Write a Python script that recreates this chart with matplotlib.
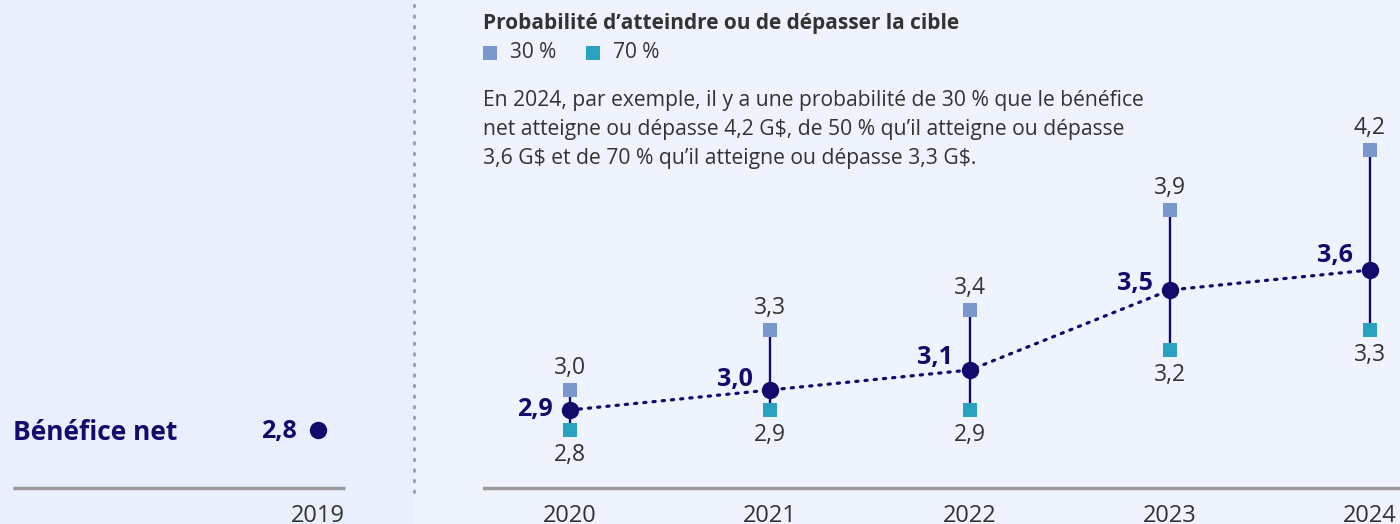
import numpy as np
import matplotlib.pyplot as plt
from matplotlib.patches import Rectangle

plt.rcParams['font.family'] = ['Open Sans', 'DejaVu Sans']

# --- data ---
years = [2020, 2021, 2022, 2023, 2024]
median = [2.9, 3.0, 3.1, 3.5, 3.6]
p30 = [3.0, 3.3, 3.4, 3.9, 4.2]
p70 = [2.8, 2.9, 2.9, 3.2, 3.3]
year_hist = 2019
value_hist = 2.8

NAVY = '#130b6b'
C30 = '#7a97cf'
C70 = '#2aa2bf'
GREY_TXT = '#333333'
AXIS = '#9a9a9a'

def fmt(v):
    return f'{v:.1f}'.replace('.', ',')

W, H = 1400, 524
fig = plt.figure(figsize=(W / 100, H / 100), dpi=100)
fig.patch.set_facecolor('#eff3fe')
fig.patches.append(Rectangle((0, 0), 414 / W, 1, transform=fig.transFigure,
                             facecolor='#e9effd', edgecolor='none', zorder=-5))

# y scale: 200 px per unit, 2.9 at y=410 px from top
ylo = 2.9 + (410 - H) / 200
yhi = 2.9 + 410 / 200
base = 2.9 - (488 - 410) / 200
ytick = 2.9 - (516 - 410) / 200

# --- left panel (2019) ---
axl = fig.add_axes([0, 0, 414 / W, 1])
axl.patch.set_alpha(0)
axl.set_xlim(year_hist - 318 / 200, year_hist + 96 / 200)
axl.set_ylim(ylo, yhi)
axl.axis('off')
axl.plot([year_hist - 305 / 200, year_hist + 27 / 200], [base, base], color=AXIS, lw=2.5, solid_capstyle='butt')
axl.plot([year_hist], [value_hist], 'o', color=NAVY, ms=11.5)
axl.text(year_hist - 21 / 200, value_hist - 0.01, fmt(value_hist), ha='right', va='center',
         fontsize=18, fontweight='bold', color=NAVY)
axl.text(year_hist - 305 / 200, value_hist - 0.015, 'Bénéfice net', fontsize=19, fontweight='bold',
         color=NAVY, ha='left', va='center')
axl.text(year_hist, ytick, str(year_hist), ha='center', va='center', fontsize=17, color=GREY_TXT)

# dotted separator
fig.add_artist(plt.Line2D([414 / W, 414 / W], [1 - 492 / H, 1], transform=fig.transFigure,
                          color=AXIS, lw=2, ls=(0, (0.6, 3.2)), dash_capstyle='round'))

# --- right panel ---
ax = fig.add_axes([483 / W, 0, (W - 483) / W, 1])
ax.patch.set_alpha(0)
ax.set_xlim(2020 - 87 / 200, 2020 + (W - 570) / 200)
ax.set_ylim(ylo, yhi)
ax.axis('off')
ax.axhline(base, color=AXIS, lw=2.5)

ax.vlines(years, p70, p30, color=NAVY, lw=1.7, zorder=2)
ax.plot(years, median, color=NAVY, lw=2.3, ls=(0, (0.7, 2.2)), dash_capstyle='round', zorder=2)
ax.plot(years, p30, 's', color=C30, ms=10.5, mew=0, zorder=3)
ax.plot(years, p70, 's', color=C70, ms=10.5, mew=0, zorder=3)
ax.plot(years, median, 'o', color=NAVY, ms=11.5, zorder=4)

lab_dy = [0, 0.05, 0.06, 0.03, 0.07]
for x, m, hi, lo, dy in zip(years, median, p30, p70, lab_dy):
    ax.text(x - 0.085, m + dy, fmt(m), ha='right', va='center', fontsize=18,
            fontweight='bold', color=NAVY)
    ax.text(x, hi + 0.11, fmt(hi), ha='center', va='center', fontsize=16.5, color=GREY_TXT)
    ax.text(x, lo - 0.125, fmt(lo), ha='center', va='center', fontsize=16.5, color=GREY_TXT)
    ax.text(x, ytick, str(x), ha='center', va='center', fontsize=17, color=GREY_TXT)

# --- title, legend, note ---
fig.text(483 / W, 1 - 24 / H, "Probabilité d’atteindre ou de dépasser la cible",
         fontsize=15, fontweight='bold', color=GREY_TXT, ha='left', va='center')
for xs, lab, col in [(483, '30 %', C30), (586, '70 %', C70)]:
    fig.patches.append(Rectangle((xs / W, 1 - 60 / H), 14 / W, 14 / H, transform=fig.transFigure,
                                 facecolor=col, edgecolor='none'))
    fig.text((xs + 27) / W, 1 - 52 / H, lab, fontsize=15, color=GREY_TXT, ha='left', va='center')

note = ("En 2024, par exemple, il y a une probabilité de 30 % que le bénéfice\n"
        "net atteigne ou dépasse 4,2 G$, de 50 % qu’il atteigne ou dépasse\n"
        "3,6 G$ et de 70 % qu’il atteigne ou dépasse 3,3 G$.")
fig.text(483 / W, 1 - 90 / H, note, fontsize=15.2, color=GREY_TXT, ha='left', va='top',
         linespacing=1.5, parse_math=False)

fig.savefig('out.png', dpi=100, facecolor=fig.get_facecolor())
